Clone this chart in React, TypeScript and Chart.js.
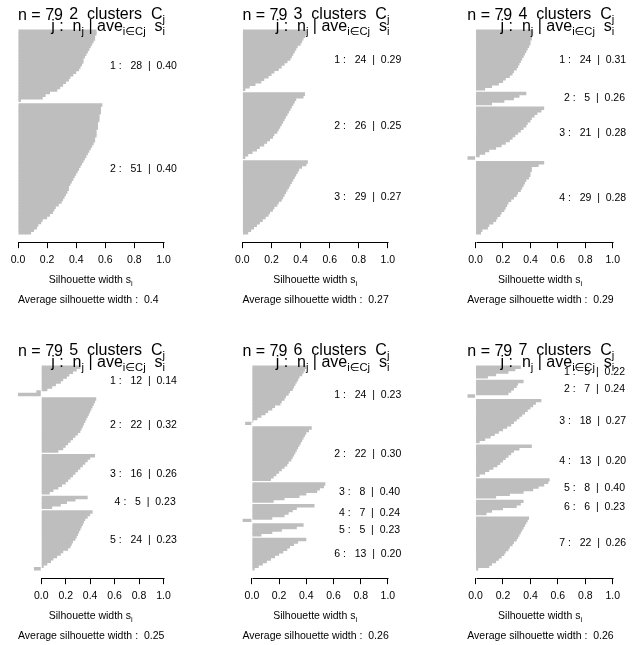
import React, { useEffect, useRef } from 'react';
import { Chart, registerables } from 'chart.js';
Chart.register(...registerables);

// ---------------- data (silhouette widths, sorted within each cluster) ----------------
const k2c1 = [0.54,0.54,0.53,0.53,0.52,0.51,0.50,0.49,0.48,0.47,0.46,0.45,0.45,0.44,0.43,0.42,0.40,0.38,0.36,0.35,0.33,0.31,0.29,0.27,0.22,0.19,0.17,0.02];
const k2c2 = [0.58,0.57,0.57,0.57,0.56,0.56,0.56,0.55,0.55,0.55,0.54,0.54,0.54,0.53,0.53,0.52,0.51,0.50,0.49,0.48,0.47,0.46,0.45,0.44,0.43,0.42,0.41,0.40,0.39,0.38,0.37,0.36,0.35,0.35,0.34,0.33,0.32,0.31,0.30,0.28,0.26,0.25,0.24,0.22,0.20,0.17,0.16,0.14,0.13,0.11,0.09];

const k3c1 = [0.44,0.44,0.43,0.42,0.41,0.40,0.38,0.37,0.36,0.35,0.34,0.33,0.31,0.29,0.27,0.25,0.22,0.20,0.18,0.15,0.13,0.09,0.05,0.02];
const k3c2 = [0.43,0.42,0.37,0.36,0.35,0.34,0.33,0.32,0.31,0.30,0.29,0.28,0.27,0.26,0.25,0.24,0.22,0.21,0.19,0.17,0.15,0.12,0.10,0.07,0.04,0.02];
const k3c3 = [0.45,0.44,0.41,0.39,0.38,0.37,0.36,0.35,0.34,0.33,0.32,0.31,0.30,0.29,0.28,0.27,0.25,0.24,0.22,0.21,0.19,0.18,0.16,0.14,0.12,0.10,0.08,0.06,0.04];

const k4c1 = [0.42,0.42,0.41,0.41,0.40,0.40,0.39,0.38,0.37,0.36,0.35,0.34,0.33,0.32,0.31,0.30,0.28,0.27,0.25,0.22,0.20,0.17,0.12,0.07];
const k4c2 = [0.37,0.32,0.28,0.21,0.12];
const k4c3 = [0.50,0.48,0.45,0.43,0.41,0.40,0.38,0.37,0.35,0.33,0.31,0.29,0.27,0.25,0.22,0.19,0.15,0.10,0.07,0.03,-0.06];
const k4c4 = [0.50,0.46,0.41,0.41,0.40,0.40,0.39,0.37,0.36,0.35,0.34,0.33,0.31,0.30,0.28,0.26,0.24,0.23,0.22,0.21,0.19,0.18,0.16,0.15,0.13,0.10,0.09,0.05,0.04];

const k5c1 = [0.32,0.29,0.26,0.23,0.21,0.18,0.16,0.12,0.09,0.05,-0.04,-0.19];
const k5c2 = [0.45,0.44,0.43,0.42,0.41,0.40,0.39,0.38,0.37,0.36,0.35,0.34,0.33,0.32,0.30,0.28,0.26,0.24,0.22,0.20,0.18,0.14];
const k5c3 = [0.44,0.40,0.38,0.36,0.34,0.32,0.30,0.28,0.26,0.24,0.22,0.20,0.17,0.14,0.10,0.07];
const k5c4 = [0.38,0.28,0.21,0.16,0.09];
const k5c5 = [0.42,0.40,0.38,0.36,0.35,0.34,0.33,0.32,0.31,0.30,0.29,0.28,0.26,0.25,0.24,0.22,0.18,0.16,0.13,0.10,0.08,0.05,0.02,-0.06];

const k6c1 = [0.40,0.39,0.38,0.37,0.35,0.34,0.33,0.32,0.31,0.30,0.28,0.27,0.25,0.24,0.22,0.21,0.17,0.15,0.12,0.10,0.07,0.04,0.01,-0.05];
const k6c2 = [0.44,0.42,0.40,0.39,0.38,0.37,0.36,0.35,0.34,0.33,0.32,0.31,0.30,0.29,0.27,0.26,0.24,0.22,0.20,0.18,0.16,0.14];
const k6c3 = [0.54,0.53,0.50,0.48,0.40,0.35,0.24,0.16];
const k6c4 = [0.46,0.33,0.30,0.27,0.24,0.15,-0.07];
const k6c5 = [0.38,0.33,0.22,0.15,0.07];
const k6c6 = [0.40,0.34,0.31,0.28,0.26,0.23,0.20,0.17,0.14,0.11,0.08,0.05,0.02];

const k7c1 = [0.33,0.29,0.24,0.15,0.09];
const k7c2 = [0.35,0.31,0.30,0.28,0.26,0.24,-0.06];
const k7c3 = [0.48,0.44,0.42,0.40,0.38,0.36,0.34,0.32,0.30,0.28,0.26,0.23,0.20,0.17,0.14,0.11,0.07,0.03];
const k7c4 = [0.41,0.32,0.28,0.26,0.24,0.22,0.20,0.18,0.16,0.13,0.10,0.07,0.03];
const k7c5 = [0.54,0.53,0.50,0.46,0.42,0.35,0.25,0.15];
const k7c6 = [0.35,0.33,0.30,0.20,0.12,0.08];
const k7c7 = [0.39,0.38,0.37,0.36,0.35,0.34,0.33,0.32,0.31,0.30,0.28,0.27,0.25,0.24,0.22,0.21,0.19,0.17,0.15,0.12,0.10,0.02];

// cluster average widths as printed, and overall average per panel
const k2Avg = [0.40, 0.40];
const k3Avg = [0.29, 0.25, 0.27];
const k4Avg = [0.31, 0.26, 0.28, 0.28];
const k5Avg = [0.14, 0.32, 0.26, 0.23, 0.23];
const k6Avg = [0.23, 0.30, 0.40, 0.24, 0.23, 0.20];
const k7Avg = [0.22, 0.24, 0.27, 0.20, 0.40, 0.23, 0.26];
const overallAvg = [0.4, 0.27, 0.29, 0.25, 0.26, 0.26];
const xTicks = [0, 0.2, 0.4, 0.6, 0.8, 1.0];
const nTotal = 79;

const panelClusters = [
  [k2c1, k2c2],
  [k3c1, k3c2, k3c3],
  [k4c1, k4c2, k4c3, k4c4],
  [k5c1, k5c2, k5c3, k5c4, k5c5],
  [k6c1, k6c2, k6c3, k6c4, k6c5, k6c6],
  [k7c1, k7c2, k7c3, k7c4, k7c5, k7c6, k7c7],
];
const panelAvgs = [k2Avg, k3Avg, k4Avg, k5Avg, k6Avg, k7Avg];

// ---------------- layout ----------------
const W = 643, H = 645;
const COL_L = [18, 242.4, 467.3];
const PLOT_W = 145.5;
const ROW_Y = [0, 336];
const BAR_TOP = 30;
const BAR_SPAN = 204;
const AXH = 40;
const GAP = 0.5;          // space between clusters, in bar widths
const OVERLAP_PX = 1;     // bars overlap by 1px to avoid anti-alias seams
const BAR_GRAY = '#bebebe';
const FONT = '"Liberation Sans", Arial, "DejaVu Sans", sans-serif';
const f = (s: number) => `${s}px ${FONT}`;

type Part = { t: string; sub?: boolean };

function drawRich(ctx: CanvasRenderingContext2D, parts: Part[], x: number, y: number, size: number, align: 'left' | 'right' | 'center') {
  const ws = parts.map((p) => {
    ctx.font = f(p.sub ? size * 0.7 : size);
    return ctx.measureText(p.t).width;
  });
  const total = ws.reduce((a, b) => a + b, 0);
  let cx = align === 'left' ? x : align === 'right' ? x - total : x - total / 2;
  ctx.textAlign = 'left';
  ctx.textBaseline = 'alphabetic';
  parts.forEach((p, i) => {
    ctx.font = f(p.sub ? size * 0.7 : size);
    ctx.fillText(p.t, cx, y + (p.sub ? size * 0.28 : 0));
    cx += ws[i];
  });
}

function Panel({ idx }: { idx: number }) {
  const ref = useRef<HTMLCanvasElement>(null);
  useEffect(() => {
    const clusters = panelClusters[idx];
    const avgs = panelAvgs[idx];
    const k = clusters.length;
    const n = clusters.reduce((a, c) => a + c.length, 0);
    const col = idx % 3;
    const row = Math.floor(idx / 3);
    const rowY = ROW_Y[row];
    const L = COL_L[col];
    const R = L + PLOT_W;
    const barTop = rowY + BAR_TOP;
    const plotT = barTop - 0.04 * BAR_SPAN;
    const plotB = barTop + 1.04 * BAR_SPAN;

    // pixel size of one bar slot; each gap gets one extra pixel to compensate the overlap
    const unitPx = (BAR_SPAN - (k - 1) * OVERLAP_PX) / (n + (k - 1) * GAP);
    const gapUnits = GAP + OVERLAP_PX / unitPx;

    const points: { x: number; y: number }[] = [];
    const clusterPos: number[][] = [];
    let pos = 0;
    clusters.forEach((c, ci) => {
      if (ci > 0) pos += gapUnits;
      const ps: number[] = [];
      c.forEach((v) => {
        points.push({ x: v, y: pos + 0.5 });
        ps.push(pos + 0.5);
        pos += 1;
      });
      clusterPos.push(ps);
    });
    const T = pos;
    const pad = (0.04 * BAR_SPAN) / unitPx;
    const xMin = Math.min(0, ...clusters.flat());

    const textPlugin = {
      id: 'silText',
      afterDraw(chart: any) {
        const { ctx, chartArea: ca, scales } = chart;
        const xs = scales.x, ys = scales.y;
        ctx.save();
        ctx.fillStyle = '#000';
        ctx.strokeStyle = '#000';
        ctx.lineWidth = 1;
        const yb = Math.round(ca.bottom - 0.5) + 0.5;
        ctx.beginPath();
        ctx.moveTo(Math.round(xs.getPixelForValue(0)) + 0.5, yb);
        ctx.lineTo(Math.round(xs.getPixelForValue(1)) + 0.5, yb);
        ctx.stroke();
        drawRich(ctx, [{ t: `n = ${nTotal}` }], ca.left, rowY + 20, 16, 'left');
        drawRich(ctx, [{ t: `${k}  clusters  C` }, { t: 'j', sub: true }], ca.right + 1.5, rowY + 19, 16, 'right');
        drawRich(
          ctx,
          [{ t: 'j :  n' }, { t: 'j', sub: true }, { t: ' | ave' }, { t: 'i\u2208Cj', sub: true }, { t: '  s' }, { t: 'i', sub: true }],
          ca.right + 1.5, rowY + 31, 16, 'right'
        );
        ctx.font = f(10.5);
        ctx.textBaseline = 'middle';
        ctx.textAlign = 'left';
        clusterPos.forEach((ps, j) => {
          const yj = ps.reduce((a, p) => a + ys.getPixelForValue(p), 0) / ps.length;
          const label = `${j + 1} :   ${ps.length}  |  ${avgs[j].toFixed(2)}`;
          const w = ctx.measureText(label).width;
          ctx.fillText(label, xs.getPixelForValue(1) - 0.8 * w, yj);
        });
        drawRich(ctx, [{ t: 'Silhouette width s' }, { t: 'i', sub: true }], (ca.left + ca.right) / 2, ca.bottom + 41, 10.5, 'center');
        drawRich(ctx, [{ t: `Average silhouette width :  ${overallAvg[idx]}` }], ca.left, ca.bottom + 60.5, 10.5, 'left');
        ctx.restore();
      },
    };

    const chart = new Chart(ref.current as HTMLCanvasElement, {
      type: 'bar',
      data: {
        datasets: [
          {
            data: points as any,
            backgroundColor: BAR_GRAY,
            borderWidth: 0,
            barThickness: unitPx + OVERLAP_PX,
            inflateAmount: 0,
          },
        ],
      },
      options: {
        indexAxis: 'y',
        animation: false,
        responsive: false,
        devicePixelRatio: 1,
        events: [],
        layout: { padding: { left: L, right: W - R, top: plotT, bottom: H - plotB - AXH } },
        plugins: { legend: { display: false }, tooltip: { enabled: false } },
        scales: {
          x: {
            type: 'linear',
            position: 'bottom',
            min: xMin,
            max: 1,
            afterBuildTicks: (s: any) => {
              s.ticks = xTicks.map((v) => ({ value: v }));
            },
            afterFit: (s: any) => {
              s.height = AXH;
            },
            ticks: {
              callback: (v: any) => Number(v).toFixed(1),
              font: { family: FONT, size: 10.5 },
              color: '#000',
              padding: 5.5,
              maxRotation: 0,
              autoSkip: false,
            },
            grid: { drawOnChartArea: false, drawTicks: true, tickLength: 6, color: '#000', lineWidth: 1 },
            border: { display: false },
          },
          y: {
            type: 'linear',
            display: false,
            reverse: true,
            offset: false,
            min: -pad,
            max: T + pad,
            ticks: { stepSize: 1000 },
            grid: { display: false },
          },
        },
      } as any,
      plugins: [textPlugin],
    });
    return () => chart.destroy();
  }, [idx]);
  return (
    <canvas
      ref={ref}
      width={W}
      height={H}
      style={{ position: 'absolute', left: 0, top: 0, width: W, height: H }}
    />
  );
}

export default function App() {
  return (
    <div style={{ position: 'absolute', left: 0, top: 0, width: W, height: H, background: '#fff', overflow: 'hidden' }}>
      {panelClusters.map((_, i) => (
        <Panel key={i} idx={i} />
      ))}
    </div>
  );
}
